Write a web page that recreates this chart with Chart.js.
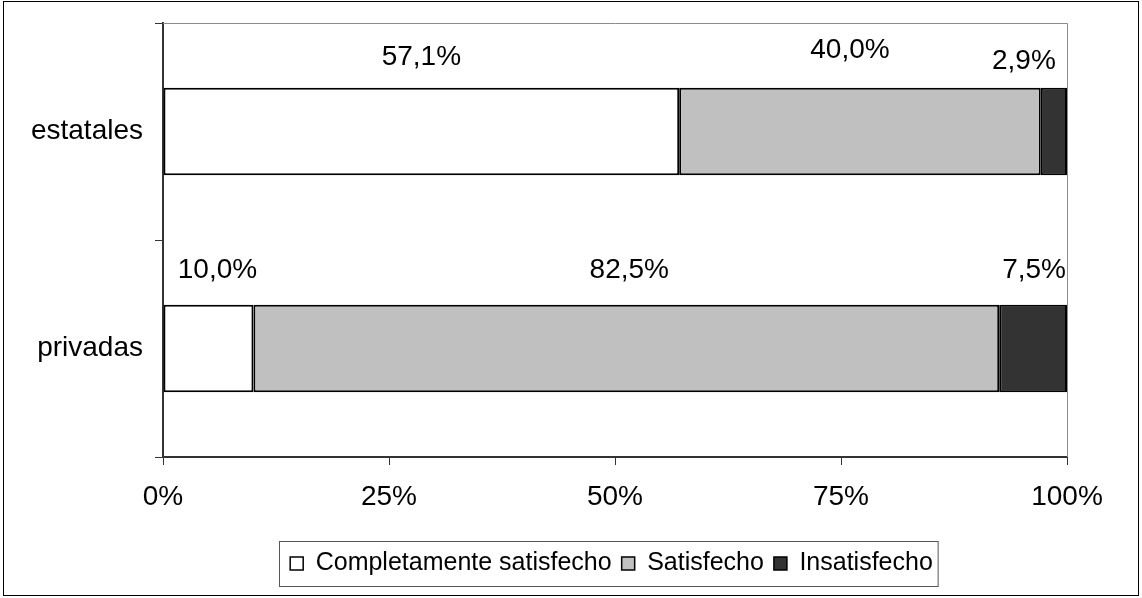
<!DOCTYPE html>
<html>
<head>
<meta charset="utf-8">
<script src="https://cdn.jsdelivr.net/npm/chart.js@4/dist/chart.umd.min.js"></script>
<style>
  html, body { margin: 0; padding: 0; background: #fff; }
  #wrap { width: 1142px; height: 598px; }
</style>
</head>
<body>
<div id="wrap"><canvas id="graphique"></canvas></div>
<script>
// Données du graphique
const categories = ['estatales', 'privadas'];
const seriesNames = ['Completamente satisfecho', 'Satisfecho', 'Insatisfecho'];
const completamente = [57.1, 10.0];
const satisfecho = [40.0, 82.5];
const insatisfecho = [2.9, 7.5];
const xTicks = [0, 25, 50, 75, 100];

const couleurs = ['#ffffff', '#c0c0c0', '#333333'];
const police = "'Liberation Sans', Arial, sans-serif";

// décalages des étiquettes (par catégorie, par série) : [dx, dy au-dessus de la barre]
const decalages = [
  [[0, -30], [-10, -37], [-30, -26]],
  [[9, -34], [3, -34], [1, -34]]
];

const cadre = {
  id: 'cadre',
  afterLayout(chart) {
    // recentrer la légende sous la zone de traçage
    const lg = chart.legend;
    lg.left += 78;
    lg.right += 78;
  },
  beforeDraw(chart) {
    const ctx = chart.ctx;
    ctx.save();
    ctx.fillStyle = '#fff';
    ctx.fillRect(0, 0, chart.width, chart.height);
    ctx.restore();
  },
  afterDraw(chart) {
    const ctx = chart.ctx;
    const a = chart.chartArea;
    ctx.save();
    // bordure extérieure
    ctx.strokeStyle = '#000';
    ctx.lineWidth = 1;
    ctx.strokeRect(3.5, 1.5, 1135, 594);
    // haut et droite de la zone de traçage
    ctx.strokeStyle = '#8c8c8c';
    ctx.beginPath();
    ctx.moveTo(a.left, a.top + 0.5);
    ctx.lineTo(a.right + 0.5, a.top + 0.5);
    ctx.lineTo(a.right + 0.5, a.bottom);
    ctx.stroke();
    // étiquettes de valeurs
    ctx.fillStyle = '#000';
    ctx.font = '28px ' + police;
    ctx.textAlign = 'center';
    ctx.textBaseline = 'middle';
    chart.data.datasets.forEach((ds, i) => {
      chart.getDatasetMeta(i).data.forEach((bar, j) => {
        const cx = (bar.x + bar.base) / 2 + decalages[j][i][0];
        const top = bar.y - bar.height / 2;
        const txt = ds.data[j].toFixed(1).replace('.', ',') + '%';
        ctx.fillText(txt, cx, top + decalages[j][i][1]);
      });
    });
    // cadre de la légende
    const boxes = chart.legend.legendHitBoxes;
    if (boxes && boxes.length) {
      const minX = Math.min(...boxes.map(b => b.left));
      const maxX = Math.max(...boxes.map(b => b.left + b.width));
      const midY = boxes[0].top + boxes[0].height / 2;
      ctx.strokeStyle = '#555';
      ctx.strokeRect(Math.round(minX) - 10.5, Math.round(midY) - 22.5, maxX - minX + 16, 45);
    }
    ctx.restore();
  }
};

new Chart(document.getElementById('graphique'), {
  type: 'bar',
  data: {
    labels: categories,
    datasets: [
      { label: seriesNames[0], data: completamente, backgroundColor: couleurs[0] },
      { label: seriesNames[1], data: satisfecho, backgroundColor: couleurs[1] },
      { label: seriesNames[2], data: insatisfecho, backgroundColor: couleurs[2] }
    ].map(d => Object.assign(d, {
      borderColor: '#000',
      borderWidth: 2,
      borderSkipped: false,
      categoryPercentage: 0.8,
      barPercentage: 0.505
    }))
  },
  options: {
    indexAxis: 'y',
    responsive: true,
    maintainAspectRatio: false,
    animation: false,
    layout: { padding: { top: 23, right: 75, bottom: 12, left: 0 } },
    scales: {
      x: {
        stacked: true,
        min: 0,
        max: 100,
        afterBuildTicks: s => { s.ticks = xTicks.map(v => ({ value: v })); },
        afterFit: s => { s.height = 84; },
        ticks: {
          callback: v => v + '%',
          color: '#000',
          font: { family: police, size: 28 },
          padding: 15,
          maxRotation: 0
        },
        grid: { drawOnChartArea: false, tickLength: 8, color: '#333' },
        border: { color: '#333', width: 2 }
      },
      y: {
        stacked: true,
        afterFit: s => { s.width = 163; s.paddingTop = 0; s.paddingBottom = 0; },
        ticks: {
          color: '#000',
          font: { family: police, size: 28 },
          padding: 12
        },
        grid: { drawOnChartArea: false, tickLength: 8, color: '#333', offset: true },
        border: { color: '#333', width: 2 }
      }
    },
    plugins: {
      legend: {
        position: 'bottom',
        labels: {
          color: '#000',
          font: { family: police, size: 25 },
          boxWidth: 13,
          boxHeight: 13,
          padding: 10,
          generateLabels: chart => chart.data.datasets.map((ds, i) => ({
            text: ds.label,
            fillStyle: ds.backgroundColor,
            strokeStyle: '#000',
            lineWidth: 1.5,
            datasetIndex: i
          }))
        }
      },
      tooltip: { enabled: false }
    }
  },
  plugins: [cadre]
});
</script>
</body>
</html>
